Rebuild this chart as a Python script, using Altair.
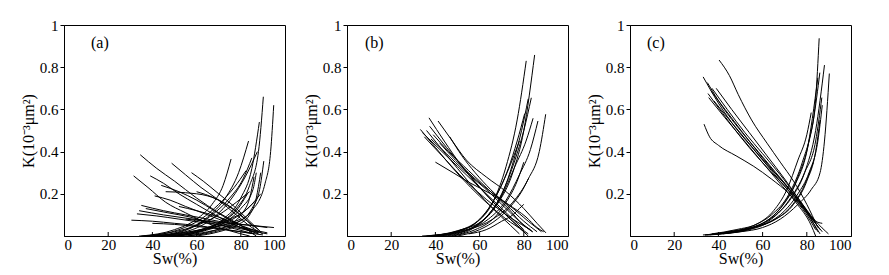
import altair as alt
import pandas as pd

# ---------------- data ----------------
SW_TICKS = [0, 20, 40, 60, 80, 100]
K_TICKS = [0.2, 0.4, 0.6, 0.8, 1]
INNER_X_TICKS = [20, 40, 60, 80]
PANEL_LABELS = ["(a)", "(b)", "(c)"]

A_OIL = [
    [(34.5, 0.385), (42, 0.32), (50, 0.26), (60, 0.18), (70, 0.11), (80, 0.05), (87, 0.0)],
    [(31.5, 0.285), (38, 0.23), (46, 0.16), (55, 0.11), (65, 0.06), (75, 0.025), (84, 0.0)],
    [(48.7, 0.345), (55, 0.29), (62, 0.23), (70, 0.17), (78, 0.10), (85, 0.04), (90, 0.01)],
    [(57.7, 0.30), (63, 0.26), (70, 0.20), (77, 0.14), (84, 0.07), (89, 0.02)],
    [(39, 0.285), (45, 0.25), (52, 0.20), (60, 0.15), (70, 0.09), (80, 0.04), (88, 0.01)],
    [(41, 0.19), (48, 0.17), (55, 0.14), (65, 0.10), (75, 0.06), (85, 0.025), (92, 0.01)],
    [(46, 0.21), (55, 0.205), (65, 0.19), (72, 0.16), (80, 0.10), (86, 0.04)],
    [(35, 0.145), (45, 0.12), (55, 0.10), (65, 0.08), (75, 0.06), (85, 0.05), (95, 0.04)],
    [(34, 0.12), (45, 0.10), (55, 0.085), (65, 0.07), (75, 0.05), (85, 0.03), (92, 0.015)],
    [(33, 0.105), (42, 0.095), (52, 0.08), (62, 0.065), (72, 0.05), (82, 0.03), (88, 0.015)],
    [(30.5, 0.075), (40, 0.07), (50, 0.06), (60, 0.05), (70, 0.035), (80, 0.02), (86, 0.01)],
    [(37, 0.13), (47, 0.11), (57, 0.09), (67, 0.06), (77, 0.035), (86, 0.01)],
    [(52, 0.14), (60, 0.12), (70, 0.09), (80, 0.05), (88, 0.02)],
    [(40, 0.06), (50, 0.055), (60, 0.045), (70, 0.035), (80, 0.02), (90, 0.005)],
    [(55, 0.08), (65, 0.07), (75, 0.06), (85, 0.05), (92, 0.04)],
    [(44, 0.24), (52, 0.21), (60, 0.17), (68, 0.12), (76, 0.07), (84, 0.03)],
    [(60, 0.21), (68, 0.18), (76, 0.13), (83, 0.07), (88, 0.03)],
]
A_WATER = [
    [(45, 0.0), (60, 0.02), (70, 0.06), (78, 0.13), (84, 0.24), (88, 0.40), (90.2, 0.66)],
    [(50, 0.0), (65, 0.02), (75, 0.05), (85, 0.12), (91, 0.25), (93.5, 0.40), (94.9, 0.62)],
    [(40, 0.0), (55, 0.03), (65, 0.09), (73, 0.18), (79, 0.30), (83.5, 0.45)],
    [(35, 0.0), (50, 0.03), (60, 0.08), (67, 0.15), (72, 0.24), (75.6, 0.365)],
    [(42, 0.0), (58, 0.03), (68, 0.09), (76, 0.18), (82, 0.28), (87.5, 0.40)],
    [(48, 0.0), (62, 0.03), (72, 0.08), (80, 0.18), (85, 0.32), (88.4, 0.54)],
    [(55, 0.0), (68, 0.02), (78, 0.06), (85, 0.13), (88.5, 0.22), (90.4, 0.355)],
    [(38, 0.0), (52, 0.03), (62, 0.08), (70, 0.15), (77, 0.23), (82.4, 0.31)],
    [(44, 0.0), (58, 0.04), (67, 0.10), (75, 0.18), (81, 0.27), (85, 0.37)],
    [(50, 0.0), (62, 0.02), (72, 0.06), (80, 0.13), (85.5, 0.22), (87, 0.30)],
    [(36, 0.0), (50, 0.02), (60, 0.05), (70, 0.10), (78, 0.16), (84, 0.21)],
    [(52, 0.0), (64, 0.03), (72, 0.07), (78, 0.12), (83, 0.20)],
    [(46, 0.0), (60, 0.02), (70, 0.05), (78, 0.09), (85, 0.15), (89, 0.20)],
    [(40, 0.0), (55, 0.015), (65, 0.04), (75, 0.08), (82, 0.12), (86, 0.16)],
    [(56, 0.0), (66, 0.02), (74, 0.05), (80, 0.10), (84, 0.18), (86, 0.28)],
    [(34, 0.0), (50, 0.01), (62, 0.03), (72, 0.05), (80, 0.08)],
    [(60, 0.0), (70, 0.02), (78, 0.05), (84, 0.10), (87, 0.18), (89, 0.30)],
]

B_OIL = [
    [(33.2, 0.505), (40, 0.42), (48, 0.32), (56, 0.23), (64, 0.15), (72, 0.08), (80, 0.02), (82, 0.0)],
    [(37.1, 0.56), (44, 0.45), (52, 0.33), (60, 0.23), (68, 0.14), (76, 0.06), (81, 0.01)],
    [(41.2, 0.545), (47, 0.46), (54, 0.36), (63, 0.28), (72, 0.21), (80, 0.13), (86, 0.06), (90, 0.015)],
    [(34.1, 0.49), (42, 0.41), (50, 0.33), (58, 0.25), (66, 0.17), (74, 0.09), (80, 0.03)],
    [(37.4, 0.52), (45, 0.42), (53, 0.32), (61, 0.22), (69, 0.13), (77, 0.05), (82, 0.01)],
    [(40, 0.35), (48, 0.30), (56, 0.25), (65, 0.20), (74, 0.14), (82, 0.07), (88, 0.02)],
    [(38, 0.46), (45, 0.39), (53, 0.31), (62, 0.23), (70, 0.15), (78, 0.07), (84, 0.02)],
    [(46.5, 0.47), (52, 0.38), (58, 0.30), (65, 0.22), (72, 0.15), (80, 0.07), (86, 0.02)],
    [(36, 0.50), (43, 0.41), (50, 0.32), (58, 0.22), (66, 0.13), (74, 0.05), (78, 0.01)],
    [(42, 0.44), (49, 0.36), (57, 0.28), (65, 0.21), (73, 0.15), (81, 0.09), (86, 0.04), (89, 0.02)],
    [(35, 0.47), (43, 0.38), (51, 0.29), (59, 0.21), (67, 0.14), (75, 0.08), (83, 0.03)],
    [(39, 0.48), (46, 0.40), (55, 0.31), (64, 0.22), (73, 0.13), (80, 0.05), (84, 0.02)],
]
B_WATER = [
    [(34, 0.0), (50, 0.02), (60, 0.06), (68, 0.15), (75, 0.30), (80, 0.50), (84.9, 0.858)],
    [(36, 0.0), (50, 0.025), (58, 0.06), (66, 0.16), (72, 0.33), (77, 0.55), (81.1, 0.83)],
    [(38, 0.0), (52, 0.03), (62, 0.08), (70, 0.20), (76, 0.36), (80, 0.50), (83.4, 0.655)],
    [(40, 0.0), (55, 0.03), (66, 0.08), (75, 0.16), (82, 0.27), (87, 0.40), (89.9, 0.577)],
    [(42, 0.0), (55, 0.03), (64, 0.08), (72, 0.17), (78, 0.29), (83, 0.41), (86.4, 0.545)],
    [(44, 0.0), (55, 0.03), (63, 0.09), (70, 0.19), (76, 0.33), (81, 0.45), (84.2, 0.558)],
    [(38, 0.0), (52, 0.03), (60, 0.08), (67, 0.18), (73, 0.32), (77, 0.45), (80.4, 0.58)],
    [(46, 0.0), (56, 0.03), (64, 0.10), (71, 0.22), (76, 0.38), (79, 0.50), (82, 0.65)],
    [(40, 0.0), (54, 0.035), (62, 0.10), (68, 0.20), (74, 0.34), (78, 0.45)],
    [(48, 0.0), (58, 0.03), (66, 0.08), (72, 0.16), (77, 0.26), (80, 0.35)],
    [(50, 0.0), (60, 0.03), (68, 0.08), (74, 0.14), (79, 0.21), (82, 0.27)],
    [(55, 0.01), (63, 0.03), (70, 0.07), (75, 0.10), (78, 0.13), (80, 0.15)],
]

C_OIL = [
    [(40.3, 0.834), (45, 0.76), (49, 0.67), (55, 0.55), (62, 0.44), (68, 0.35), (74, 0.26), (80, 0.15), (85, 0.04)],
    [(33.1, 0.754), (40, 0.63), (48, 0.51), (56, 0.41), (64, 0.31), (72, 0.21), (80, 0.11), (87, 0.02)],
    [(35, 0.727), (42, 0.61), (50, 0.50), (58, 0.40), (66, 0.30), (74, 0.20), (82, 0.09), (86, 0.03)],
    [(37.1, 0.70), (44, 0.60), (52, 0.49), (60, 0.39), (68, 0.29), (76, 0.18), (84, 0.07), (89.8, 0.01)],
    [(35.3, 0.675), (42, 0.58), (50, 0.47), (58, 0.37), (66, 0.28), (74, 0.19), (82, 0.08), (85, 0.02)],
    [(35.6, 0.656), (43, 0.56), (51, 0.46), (59, 0.36), (67, 0.26), (75, 0.16), (82, 0.05), (84, 0.0)],
    [(33.5, 0.53), (36, 0.47), (40, 0.43), (48, 0.38), (56, 0.33), (64, 0.27), (72, 0.20), (80, 0.10), (84, 0.03)],
    [(36.5, 0.69), (43, 0.60), (51, 0.49), (60, 0.37), (68, 0.27), (76, 0.17), (83, 0.06), (86, 0.01)],
    [(38, 0.64), (45, 0.55), (53, 0.45), (61, 0.35), (69, 0.26), (77, 0.16), (84, 0.07), (87, 0.06)],
    [(39, 0.70), (46, 0.60), (54, 0.49), (62, 0.38), (70, 0.27), (78, 0.15), (84, 0.06)],
]
C_WATER = [
    [(34, 0.005), (45, 0.02), (55, 0.04), (63, 0.08), (70, 0.16), (76, 0.28), (81, 0.45), (84, 0.65), (85.6, 0.937)],
    [(36, 0.005), (48, 0.02), (58, 0.05), (66, 0.10), (73, 0.18), (79, 0.30), (84, 0.50), (88, 0.81)],
    [(38, 0.01), (50, 0.02), (60, 0.04), (68, 0.08), (76, 0.15), (82, 0.22), (86, 0.30), (88, 0.45), (90.2, 0.77)],
    [(35, 0.005), (46, 0.02), (56, 0.05), (64, 0.10), (72, 0.20), (78, 0.35), (83, 0.55), (85.9, 0.774)],
    [(40, 0.01), (52, 0.03), (60, 0.06), (68, 0.13), (75, 0.25), (80, 0.40), (85, 0.75)],
    [(33, 0.005), (45, 0.015), (55, 0.035), (64, 0.08), (72, 0.17), (79, 0.30), (84, 0.45), (86.8, 0.656)],
    [(37, 0.01), (48, 0.03), (58, 0.06), (65, 0.12), (71, 0.22), (76, 0.36), (80, 0.48), (82, 0.585)],
    [(42, 0.01), (54, 0.03), (62, 0.06), (70, 0.12), (76, 0.20), (81, 0.30), (85, 0.45), (87, 0.62)],
    [(34, 0.005), (46, 0.02), (56, 0.04), (66, 0.08), (74, 0.15), (80, 0.26), (84, 0.40), (86, 0.55)],
    [(44, 0.02), (55, 0.04), (64, 0.07), (72, 0.13), (78, 0.22), (83, 0.35)],
]

PANELS = [(A_OIL, A_WATER), (B_OIL, B_WATER), (C_OIL, C_WATER)]

FONT = "Liberation Serif"
W, H = 221, 211
LABEL_X = [27, 18, 17]


def panel_df(oil, water):
    rows = []
    cid = 0
    for curve in oil + water:
        for i, (sw, k) in enumerate(curve):
            rows.append({"cid": cid, "i": i, "sw": sw, "k": k})
        cid += 1
    return pd.DataFrame(rows)


xscale = alt.Scale(domain=[0, 100], nice=False)
yscale = alt.Scale(domain=[0, 1], nice=False)


def make_panel(idx):
    oil, water = PANELS[idx]
    df = panel_df(oil, water)
    lines = alt.Chart(df).mark_line(
        interpolate="monotone", color="black", strokeWidth=1.0, clip=True
    ).encode(
        x=alt.X("sw:Q", scale=xscale,
                axis=alt.Axis(values=SW_TICKS, title="Sw(%)", ticks=False,
                              labelPadding=1, titlePadding=-2, format="d")),
        y=alt.Y("k:Q", scale=yscale,
                axis=alt.Axis(values=K_TICKS, title="K(10⁻³μm²)", format="~g",
                              ticks=True, tickSize=4, tickColor="black",
                              labelPadding=2, titlePadding=3)),
        detail="cid:N",
        order="i:Q",
    )
    xt = alt.Chart(pd.DataFrame({"v": INNER_X_TICKS})).mark_rule(
        color="black", strokeWidth=1
    ).encode(x=alt.X("v:Q", scale=xscale), y=alt.value(H), y2=alt.value(H - 4))
    lab = alt.Chart(pd.DataFrame({"t": [PANEL_LABELS[idx]]})).mark_text(
        font=FONT, fontSize=16, align="left", baseline="middle", color="black"
    ).encode(text="t:N", x=alt.value(LABEL_X[idx]), y=alt.value(18))
    return alt.layer(lines, xt, lab).properties(width=W, height=H)


chart = alt.hconcat(make_panel(0), make_panel(1), make_panel(2), spacing=16).properties(
    padding={"left": 11, "top": 9, "right": 5, "bottom": 5}
).configure(background="white").configure_view(
    stroke="black", strokeWidth=1
).configure_axis(
    labelFont=FONT, labelFontSize=15, labelColor="black",
    titleFont=FONT, titleFontSize=16, titleFontWeight="normal", titleColor="black",
    domainColor="black", grid=False,
)

chart.save("out.html", embed_options={"renderer": "svg", "actions": False})
